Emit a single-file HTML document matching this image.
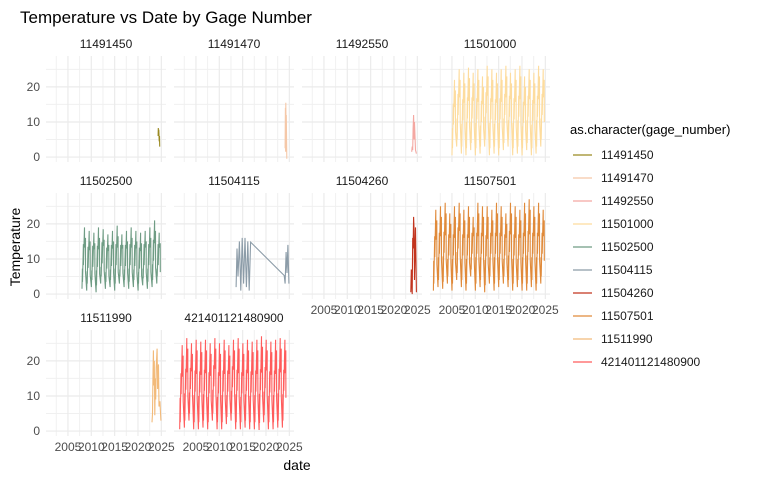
<!DOCTYPE html>
<html><head><meta charset="utf-8">
<style>
body{margin:0;background:#fff;}
svg{display:block;font-family:"Liberation Sans",sans-serif;}
</style></head>
<body>
<svg id="chart" width="768" height="480" viewBox="0 0 768 480">
<rect width="768" height="480" fill="#fff"/>
<text x="20" y="23" font-size="17" fill="#000">Temperature vs Date by Gage Number</text>
<text x="297" y="470" font-size="14" text-anchor="middle" fill="#000">date</text>
<text x="20" y="247" font-size="14" text-anchor="middle" fill="#000" transform="rotate(-90 20 247)">Temperature</text>
<g id="panels"></g>
<g id="legend"></g>
</svg>
<script>
const gages = ["11491450","11491470","11492550","11501000","11502500","11504115","11504260","11507501","11511990","421401121480900"];
const colors = ["#9a8a22","#f5c8a8","#f4a8a2","#fddc9e","#6f9c84","#8c9ca8","#c2341e","#e08a3a","#f2ba7a","#ff5c5c"];
const yTicks = [0,10,20];
const xTicks = [2005,2010,2015,2020,2025];
// dense seasonal series: start year, summer peaks, winter lows
const start11501000 = 2005;
const peaks11501000 = [22,25,24,25.5,24,25,23,26,25,24,25,26,24,25,26,23,25,24,26,25];
const lows11501000 = [0.5,3,1,0.5,2,0.5,1,3,0.5,1,0.5,2,3,0.5,1,0.5,2,0.5,1,3];
const start11502500 = 2008;
const peaks11502500 = [19,18,17.5,19,18.5,17,18,19.5,17,18,19,18,17.5,18,19,21,17.5];
const lows11502500 = [1.5,1,2,0.5,3,1.5,2,1,3,2,1.5,2,1,2.5,1.5,2,3];
const start11507501 = 2001;
const peaks11507501 = [24,25,26,23,25,26,24,25,22,26,25,25,24,26,25,23,26,25,24,26,27,25,26,24];
const lows11507501 = [1,2,1.5,3,1,4,2,1,5,1,2,0.5,3,1,2,3,2,1,2,1,1,2,1,3];
const start421401121480900 = 2001.5;
const peaks421401121480900 = [24.5,26.5,25,26,25.5,26,25,26.5,25,26,24.5,26,26.5,25,26,25.5,26,27,26,25.5,26,26.5,26];
const lows421401121480900 = [0.5,1,3,0.5,0.5,1,0.5,3,0.5,0.5,2,3,0.5,0.5,1,0.5,0.5,0.3,2.5,0.5,0.5,1,1];
// short series: [year, value]
const pts11491450 = [[2024.3,6],[2024.35,8.3],[2024.4,6],[2024.45,7.8],[2024.55,4.5],[2024.6,6],[2024.65,3]];
const pts11491470 = [[2024.1,2.5],[2024.15,14],[2024.2,1.5],[2024.25,15.5],[2024.3,7],[2024.35,12],[2024.45,-0.5]];
const pts11492550 = [[2023.8,1.5],[2023.9,3],[2024.0,2],[2024.1,8],[2024.2,12],[2024.3,5],[2024.4,10],[2024.6,2],[2024.8,1]];
const pts11504115 = [[2013.6,2],[2013.8,13],[2014.0,5],[2014.3,15],[2014.6,1],[2014.9,16],[2015.2,3],[2015.5,16],[2015.8,2],[2016.1,15],[2016.4,1],[2016.7,14.8],[2023.9,5.3],[2024.1,3],[2024.3,12],[2024.5,6],[2024.7,14],[2024.9,3]];
const pts11504260 = [[2023.6,0.5],[2023.7,7],[2023.8,4.5],[2023.9,0],[2024.0,16],[2024.1,13],[2024.2,22],[2024.3,18],[2024.4,4],[2024.6,19],[2024.8,0.5]];
const pts11511990 = [[2023.0,2.5],[2023.1,5],[2023.2,14.5],[2023.3,23],[2023.4,13],[2023.5,20],[2023.6,4.5],[2023.7,15],[2023.8,9],[2023.9,18],[2024.1,23.5],[2024.2,12],[2024.4,19],[2024.5,7],[2024.7,8.5],[2024.9,3]];

function seasonal(s, peaks, lows){
  const out=[];
  for(let i=0;i<peaks.length;i++){
    const mid=(peaks[i]+lows[i])/2;
    out.push([s+i+0.02, lows[i]]);
    out.push([s+i+0.1, mid-3]);
    out.push([s+i+0.12, lows[i]+2]);
    out.push([s+i+0.3, mid+4]);
    out.push([s+i+0.32, mid-2]);
    out.push([s+i+0.55, peaks[i]]);
    out.push([s+i+0.57, mid+3]);
    out.push([s+i+0.75, peaks[i]-3]);
    out.push([s+i+0.77, mid-4]);
  }
  return out;
}
const seriesData = {
  "11491450": pts11491450,
  "11491470": pts11491470,
  "11492550": pts11492550,
  "11501000": seasonal(start11501000, peaks11501000, lows11501000),
  "11502500": seasonal(start11502500, peaks11502500, lows11502500),
  "11504115": pts11504115,
  "11504260": pts11504260,
  "11507501": seasonal(start11507501, peaks11507501, lows11507501),
  "11511990": pts11511990,
  "421401121480900": seasonal(start421401121480900, peaks421401121480900, lows421401121480900)
};

const NS="http://www.w3.org/2000/svg";
const colX=[46,174,302,430], rowY=[56,193,330], PW=120, PH=106;
const xMin=2000.3, xMax=2026.0, yMin=-1.4, yMax=28.8;
function xs(c,v){return colX[c]+(v-xMin)/(xMax-xMin)*PW;}
function ys(r,v){return rowY[r]+PH-(v-yMin)/(yMax-yMin)*PH;}
function mk(tag,attrs,parent){const e=document.createElementNS(NS,tag);for(const k in attrs)e.setAttribute(k,attrs[k]);parent.appendChild(e);return e;}

const panels=document.getElementById('panels');
gages.forEach((g,i)=>{
  const c=i%4, r=Math.floor(i/4);
  const grp=mk('g',{},panels);
  
  
  for(let v=2002.5;v<xMax;v+=5){
    mk('line',{x1:xs(c,v),x2:xs(c,v),y1:rowY[r],y2:rowY[r]+PH,stroke:'#f0f0f0','stroke-width':1},grp);
  }
  for(let v=5;v<yMax;v+=10){
    mk('line',{x1:colX[c],x2:colX[c]+PW,y1:ys(r,v),y2:ys(r,v),stroke:'#f0f0f0','stroke-width':1},grp);
  }
  xTicks.forEach(t=>{mk('line',{x1:xs(c,t),x2:xs(c,t),y1:rowY[r],y2:rowY[r]+PH,stroke:'#ebebeb','stroke-width':1.2},grp);});
  yTicks.forEach(t=>{mk('line',{x1:colX[c],x2:colX[c]+PW,y1:ys(r,t),y2:ys(r,t),stroke:'#ebebeb','stroke-width':1.2},grp);});
  const st=mk('text',{x:colX[c]+PW/2,y:rowY[r]-8,'font-size':12,'text-anchor':'middle',fill:'#1a1a1a'},grp);
  st.textContent=g;
  
  
  const pts=seriesData[g].map(p=>xs(c,p[0]).toFixed(1)+','+ys(r,p[1]).toFixed(1)).join(' ');
  const pl=mk('polyline',{points:pts,fill:'none',stroke:colors[i],'stroke-width':1.1},grp);
  
  
  if(c===0){
    yTicks.forEach(t=>{
      const tx=mk('text',{x:colX[c]-6,y:ys(r,t)+4,'font-size':12,'text-anchor':'end',fill:'#4d4d4d'},grp);
      tx.textContent=t;
      
      
    });
  }
  const bottom = (r===2) || (r===1 && c>=2);
  if(bottom){
    xTicks.forEach(t=>{
      const tx=mk('text',{x:xs(c,t),y:rowY[r]+PH+15,'font-size':12,'text-anchor':'middle',fill:'#4d4d4d'},grp);
      tx.textContent=t;
      
      
    });
  }
});

const lg=document.getElementById('legend');
const lt=mk('text',{x:570,y:134,'font-size':13,fill:'#000'},lg);
lt.textContent='as.character(gage_number)';


gages.forEach((g,i)=>{
  const y=155+i*23;
  const e=mk('g',{},lg);
  
  
  mk('line',{x1:573,x2:592,y1:y,y2:y,stroke:colors[i],'stroke-width':1.2},e);
  const t=mk('text',{x:601,y:y+4,'font-size':12,fill:'#1a1a1a'},e);
  t.textContent=g;
});
</script>
</body></html>
